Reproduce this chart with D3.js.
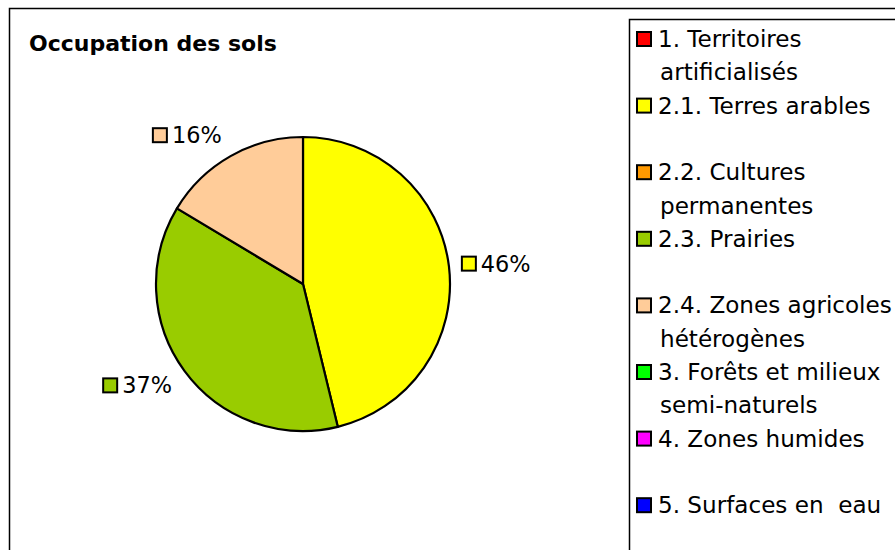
<!DOCTYPE html>
<html><head><meta charset="utf-8">
<script src="https://cdn.jsdelivr.net/npm/d3@7"></script>
<style>html,body{margin:0;padding:0;background:#fff;overflow:hidden}</style>
</head><body><svg id="c" width="895" height="550"></svg>
<script>
const categories = ["1. Territoires artificialisés","2.1. Terres arables","2.2. Cultures permanentes","2.3. Prairies","2.4. Zones agricoles hétérogènes","3. Forêts et milieux semi-naturels","4. Zones humides","5. Surfaces en  eau"];
const legendLines = [["1. Territoires","artificialisés"],["2.1. Terres arables",""],["2.2. Cultures","permanentes"],["2.3. Prairies",""],["2.4. Zones agricoles","hétérogènes"],["3. Forêts et milieux","semi-naturels"],["4. Zones humides",""],["5. Surfaces en  eau",""]];
const values = [0, 46.2, 0, 37.4, 16.4, 0, 0, 0];
const colors = ["#ff0000","#ffff00","#ff9900","#99cc00","#ffcc99","#00ff00","#ff00ff","#0000ff"];
const title = "Occupation des sols";

const svg = d3.select("#c");
const font = "'DejaVu Sans', Verdana, sans-serif";
// outer frame
svg.append("rect").attr("x",9.5).attr("y",8.5).attr("width",1000).attr("height",1000)
  .attr("fill","#fff").attr("stroke","#000").attr("stroke-width",1.5);
svg.append("text").attr("x",29).attr("y",51).attr("font-family",font).attr("font-weight","bold")
  .attr("font-size",22).text(title);

// pie (non-zero slices, clockwise from 12 o'clock)
const cx=303, cy=284, r=147;
const data = categories.map((c,i)=>({c, v:values[i], col:colors[i]})).filter(d=>d.v>0);
const pie = d3.pie().value(d=>d.v).sort(null);
const arcs = pie(data);
const arc = d3.arc().innerRadius(0).outerRadius(r);
const g = svg.append("g").attr("transform",`translate(${cx},${cy})`);
g.selectAll("path").data(arcs).join("path").attr("d",arc)
  .attr("fill",d=>d.data.col).attr("stroke","#000").attr("stroke-width",2.2).attr("stroke-linejoin","round");

// labels
const total = d3.sum(values);
const labelArc = d3.arc().innerRadius(r+12).outerRadius(r+12);
arcs.forEach(a=>{
  const mid=(a.startAngle+a.endAngle)/2;
  const [ax,ay]=labelArc.centroid(a);
  const txt = Math.round(a.data.v/total*100)+"%";
  const lg = g.append("g");
  const t = lg.append("text").attr("font-family",font).attr("font-size",22.4).text(txt);
  const w = t.node().getComputedTextLength();
  const W = 21 + w, H = 24;
  const ccx = ax + Math.sign(Math.sin(mid))*W/2 - (Math.sin(mid)<0 ? 2 : 0);
  const ccy = ay - Math.cos(mid)*H/2;
  const x0 = ccx - W/2;
  const by = ccy + 8;
  lg.append("rect").attr("x",x0+1).attr("y",by-15).attr("width",14).attr("height",14)
    .attr("fill",a.data.col).attr("stroke","#000").attr("stroke-width",2);
  t.attr("x",x0+20).attr("y",by);
});

// legend
svg.append("rect").attr("x",629.5).attr("y",19.5).attr("width",400).attr("height",600)
  .attr("fill","#fff").attr("stroke","#000").attr("stroke-width",1.5);
const step = 33.3;
const lgd = svg.append("g");
legendLines.forEach((ls,i)=>{
  const base = 47 + i*2*step;
  lgd.append("rect").attr("x",637).attr("y",base-15).attr("width",14).attr("height",14)
    .attr("fill",colors[i]).attr("stroke","#000").attr("stroke-width",2);
  ls.forEach((s,j)=>{
    if(!s) return;
    lgd.append("text").attr("x",j===0?658:660).attr("y",base+j*step).attr("font-family",font)
      .attr("font-size",23.1).style("white-space","pre").text(s);
  });
});
</script></body></html>
